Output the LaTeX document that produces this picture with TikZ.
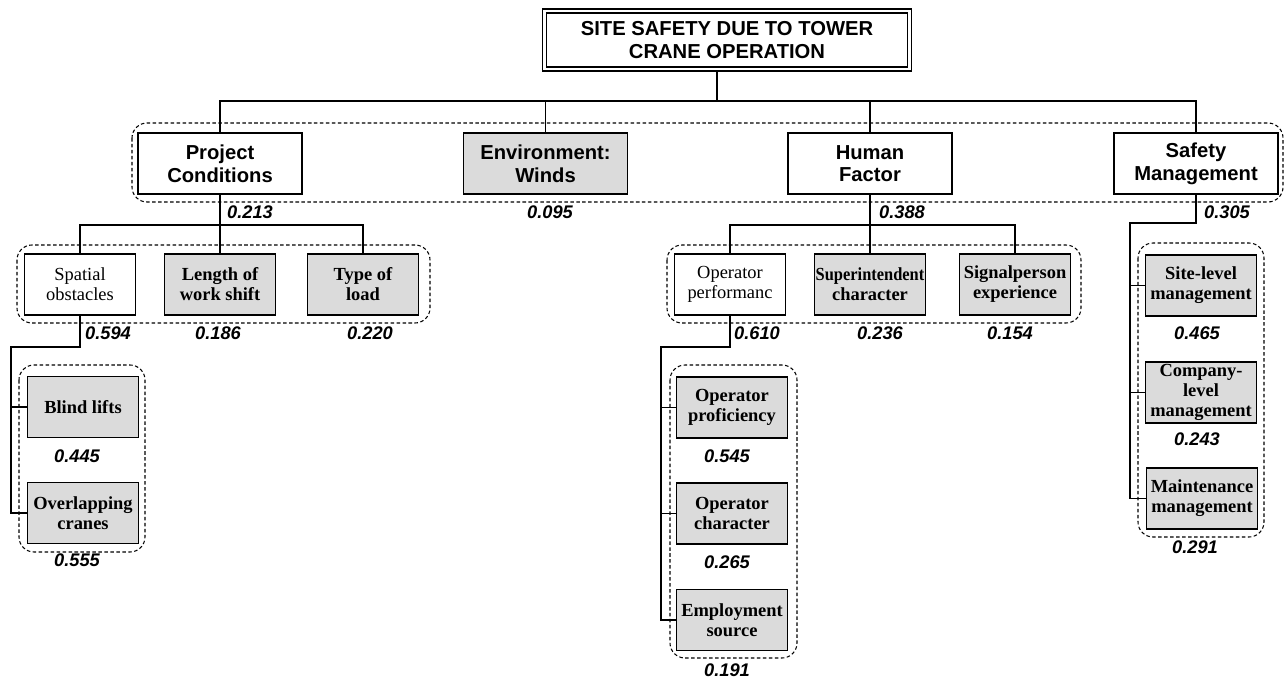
\documentclass[tikz,border=0pt]{standalone}
\usepackage{fontspec}
\setmainfont{Liberation Serif}
\setsansfont{Liberation Sans}

\tikzset{
    mainbox/.style={draw, rectangle, line width=1.1pt, align=center, inner sep=0pt,
        minimum width=3.28cm, minimum height=1.22cm,
        font=\sffamily\bfseries\fontsize{11.5}{12.9}\selectfont},
    subbox/.style={draw, rectangle, line width=1.1pt, align=center, inner sep=0pt,
        minimum width=2.22cm, minimum height=1.22cm,
        font=\fontsize{10.5}{11.4}\selectfont},
    leafbox/.style={subbox, fill=black!14, font=\bfseries\fontsize{10.5}{11.4}\selectfont},
    weight/.style={font=\sffamily\bfseries\itshape\fontsize{10.4}{11}\selectfont, inner sep=0pt},
    group/.style={draw, dash pattern=on 2pt off 1.4pt, line width=0.6pt, rounded corners=0.3cm},
    link/.style={line width=0.9pt}
}

\begin{document}
\begin{tikzpicture}[x=0.02cm, y=-0.02cm]
        \useasboundingbox (0,0) rectangle (1284,679);

        % Groups
        \draw[group] (132,123) rectangle (1283,202);
        \draw[group] (17,245) rectangle (430,323);
        \draw[group] (667,245) rectangle (1081,323);
        \draw[group] (19,365) rectangle (145,552);
        \draw[group] (670,365) rectangle (797,658);
        \draw[group] (1138,243) rectangle (1264,537);

        % Goal
        \node[draw, double, double distance=1.6pt, line width=0.7pt, align=center,
            minimum width=7.3cm, minimum height=1.16cm,
            font=\sffamily\bfseries\fontsize{11.5}{13.2}\selectfont] (goal) at (727,40)
            {SITE SAFETY DUE TO TOWER\\CRANE OPERATION};

        % Level 1
        \node[mainbox] (proj) at (220,163.5) {Project\\Conditions};
        \node[mainbox, fill=black!14] (env) at (545.5,163.5) {Environment:\\Winds};
        \node[mainbox] (human) at (870,163.5) {Human\\Factor};
        \node[mainbox] (safety) at (1196,163.5) {Safety\\Management};

        % Level 2
        \node[subbox] (spatial) at (80,284.5) {Spatial\\obstacles};
        \node[leafbox] (shift) at (220,284.5) {Length of\\work shift};
        \node[leafbox] (load) at (363,284.5) {Type of\\load};

        \node[subbox] (operf) at (730,284.5) {Operator\\performanc};
        \node[leafbox] (super) at (870,284.5) {\scalebox{0.89}[1]{Superintendent}\\character};
        \node[leafbox] (signal) at (1015,284.5) {Signalperson\\experience};

        \node[leafbox] (site) at (1201,285.5) {Site-level\\management};
        \node[leafbox] (company) at (1201,392.5) {Company-\\level\\management};
        \node[leafbox] (maint) at (1202,498.5) {Maintenance\\management};

        % Level 3
        \node[leafbox] (blind) at (83,407) {Blind lifts};
        \node[leafbox] (overlap) at (83,513) {Overlapping\\cranes};

        \node[leafbox] (prof) at (732,407.5) {Operator\\proficiency};
        \node[leafbox] (opchar) at (732,513.5) {Operator\\character};
        \node[leafbox] (employ) at (732,620) {Employment\\source};

        % Weights
        \foreach \n/\x/\y/\v in {w1/250/212/0.213, w2/550/212/0.095, w3/902/212/0.388, w4/1227/212/0.305,
                w5/108/333/0.594, w6/218/333/0.186, w7/370/333/0.220,
                w8/757/333/0.610, w9/880/333/0.236, w10/1010/333/0.154,
                w11/77/456/0.445, w12/77/560/0.555,
                w13/727/456/0.545, w14/727/562/0.265, w15/727/670/0.191,
                w16/1197/333/0.465, w17/1197/439/0.243, w18/1195/547/0.291} {
            \node[weight] (\n) at (\x,\y) {\v};
        }

        % Links
        \coordinate (bus) at (717,101);
        \draw[link] (bus) -- (bus |- goal.south);
        \draw[link] (proj.north) |- (bus) -| (safety.north);
        \draw[link] (env.north) -- (env.north |- bus);
        \draw[link] (human.north) -- (human.north |- bus);

        \coordinate (pbus) at (220,225);
        \draw[link] (proj.south) -- (pbus);
        \draw[link] (spatial.north) |- (pbus) -| (load.north);
        \draw[link] (shift.north) -- (shift.north |- pbus);

        \coordinate (hbus) at (870,225);
        \draw[link] (human.south) -- (hbus);
        \draw[link] (operf.north) |- (hbus) -| (signal.north);
        \draw[link] (super.north) -- (super.north |- hbus);

        \coordinate (sbend) at (11,347);
        \draw[link] (spatial.south) |- (sbend) |- (overlap.west);
        \draw[link] (blind.west) -- (blind.west -| sbend);

        \coordinate (obend) at (661,347);
        \draw[link] (operf.south) |- (obend) |- (employ.west);
        \draw[link] (prof.west) -- (prof.west -| obend);
        \draw[link] (opchar.west) -- (opchar.west -| obend);

        \coordinate (mbend) at (1130,223);
        \draw[link] (safety.south) |- (mbend) |- (maint.west);
        \draw[link] (site.west) -- (site.west -| mbend);
        \draw[link] (company.west) -- (company.west -| mbend);
    \end{tikzpicture}
\end{document}
